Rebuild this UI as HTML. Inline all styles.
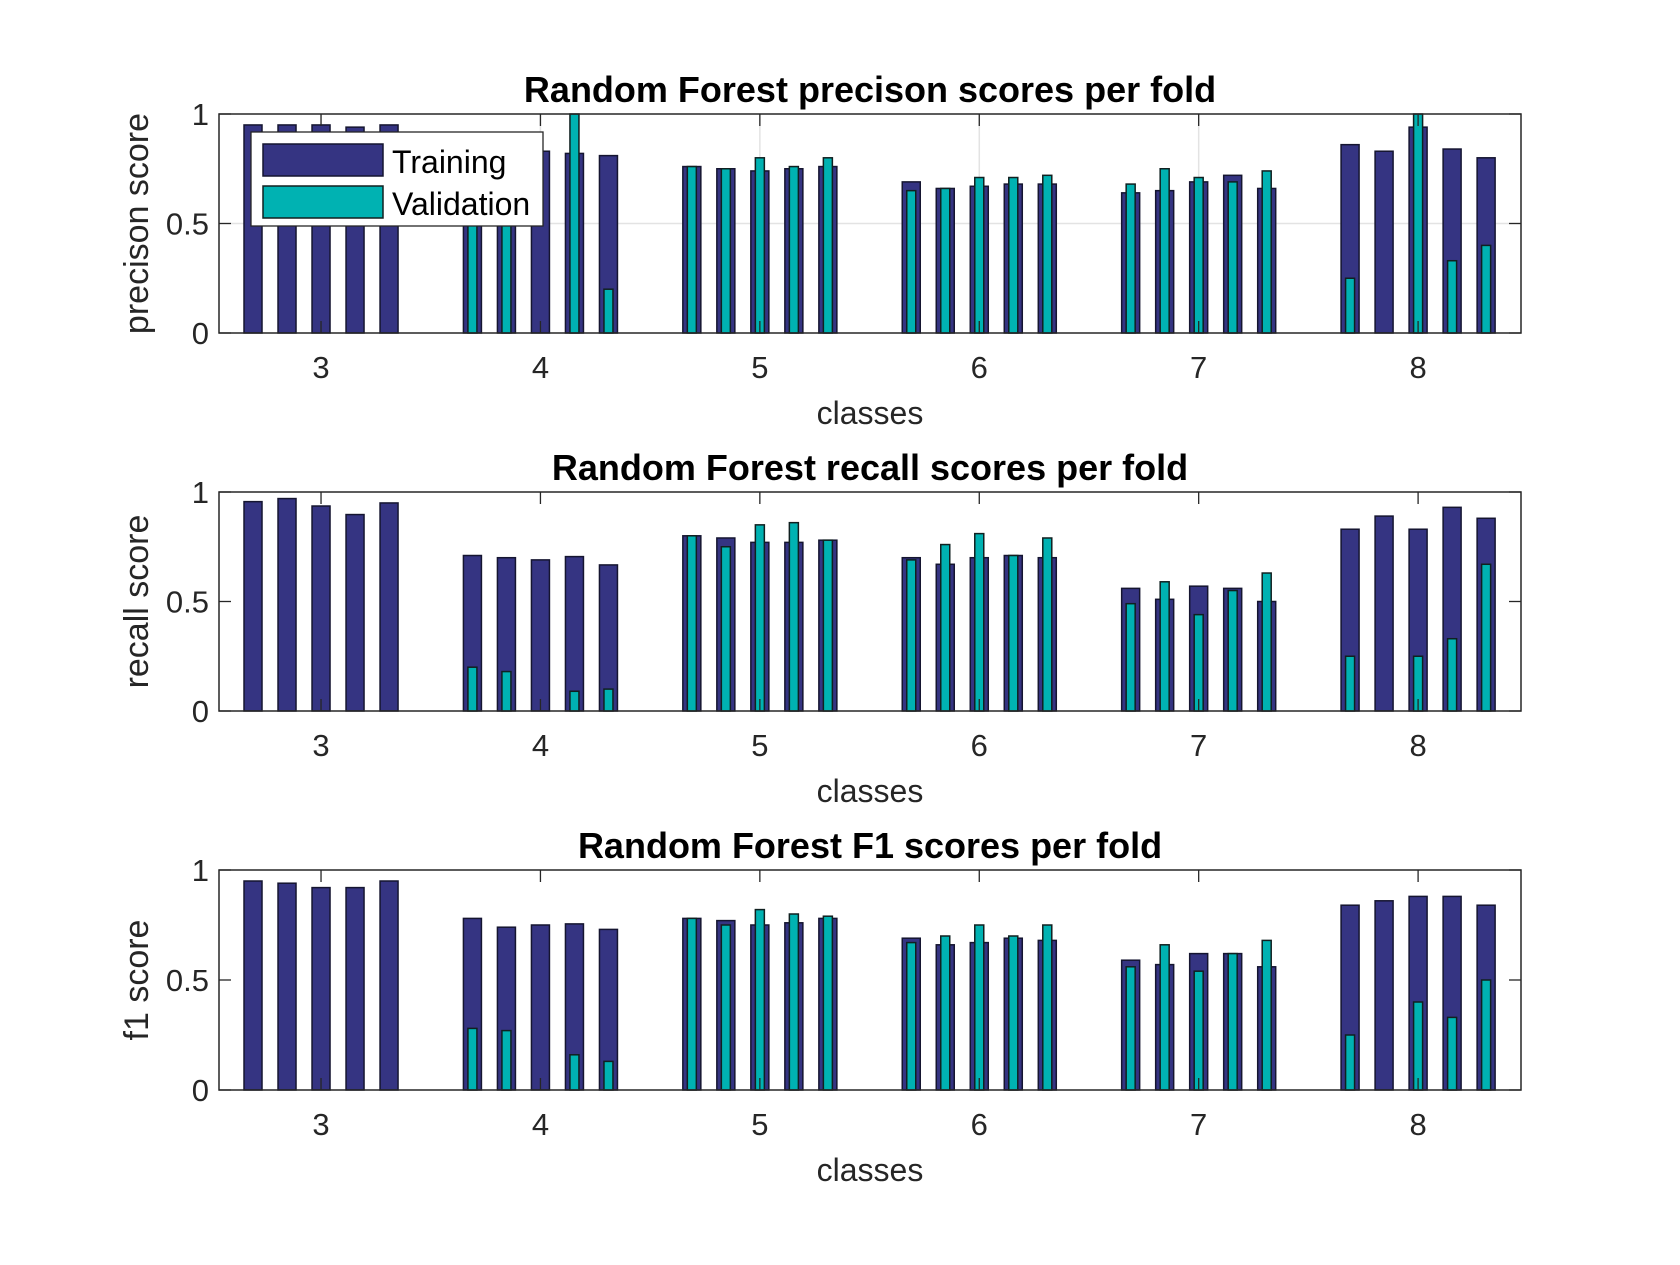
<!DOCTYPE html>
<html><head><meta charset="utf-8"><style>
body{margin:0;background:#fff;}
svg text{font-family:"Liberation Sans",Arial,sans-serif;}
</style></head><body>
<svg id="chart" width="1680" height="1260" viewBox="0 0 1680 1260" xmlns="http://www.w3.org/2000/svg"></svg>
<script>
const classes = [3,4,5,6,7,8];
const precTrain = [[0.95,0.95,0.95,0.94,0.95],[0.85,0.85,0.83,0.82,0.81],[0.76,0.75,0.74,0.75,0.76],[0.69,0.66,0.67,0.68,0.68],[0.64,0.65,0.69,0.72,0.66],[0.86,0.83,0.94,0.84,0.80]];
const precVal = [[0,0,0,0,0],[0.6,0.6,0,1.0,0.2],[0.76,0.75,0.80,0.76,0.80],[0.65,0.66,0.71,0.71,0.72],[0.68,0.75,0.71,0.69,0.74],[0.25,0,1.0,0.33,0.40]];
const recTrain = [[0.956,0.97,0.936,0.897,0.95],[0.71,0.70,0.69,0.705,0.667],[0.80,0.79,0.77,0.77,0.78],[0.70,0.67,0.70,0.71,0.70],[0.56,0.51,0.57,0.56,0.50],[0.83,0.89,0.83,0.93,0.88]];
const recVal = [[0,0,0,0,0],[0.2,0.18,0,0.09,0.1],[0.80,0.75,0.85,0.86,0.78],[0.69,0.76,0.81,0.71,0.79],[0.49,0.59,0.44,0.55,0.63],[0.25,0,0.25,0.33,0.67]];
const f1Train = [[0.95,0.94,0.92,0.92,0.95],[0.78,0.74,0.75,0.755,0.73],[0.78,0.77,0.75,0.76,0.78],[0.69,0.66,0.67,0.69,0.68],[0.59,0.57,0.62,0.62,0.56],[0.84,0.86,0.88,0.88,0.84]];
const f1Val = [[0,0,0,0,0],[0.28,0.27,0,0.16,0.13],[0.78,0.75,0.82,0.80,0.79],[0.67,0.70,0.75,0.70,0.75],[0.56,0.66,0.54,0.62,0.68],[0.25,0,0.40,0.33,0.50]];
const yTicks = [0,0.5,1];
const yTickLabels = ["0","0.5","1"];

const NS="http://www.w3.org/2000/svg";
const svg=document.getElementById('chart');
function mk(tag,attrs,parent){const e=document.createElementNS(NS,tag);for(const k in attrs)e.setAttribute(k,attrs[k]);(parent||svg).appendChild(e);return e;}
const L=219,R=1521,xmin=2.535,xmax=8.469;
const xs=v=>L+(v-xmin)/(xmax-xmin)*(R-L);
const offsets=[-0.31,-0.155,0,0.155,0.31];
const panels=[
 {top:114,bot:333,title:"Random Forest precison scores per fold",ylab:"precison score",tr:precTrain,va:precVal,grid:true,name:"precision"},
 {top:492,bot:711,title:"Random Forest recall scores per fold",ylab:"recall score",tr:recTrain,va:recVal,grid:false,name:"recall"},
 {top:870,bot:1090,title:"Random Forest F1 scores per fold",ylab:"f1 score",tr:f1Train,va:f1Val,grid:false,name:"f1"}
];
panels.forEach(p=>{
 const g=mk('g',{});
 
 
 const ys=v=>p.bot-v*(p.bot-p.top);
 mk('rect',{x:L,y:p.top,width:R-L,height:p.bot-p.top,fill:'#fff'},g);
 if(p.grid){
  classes.forEach(c=>mk('line',{x1:xs(c),x2:xs(c),y1:p.top,y2:p.bot,stroke:'#e3e3e3','stroke-width':1.5},g));
  mk('line',{x1:L,x2:R,y1:ys(0.5),y2:ys(0.5),stroke:'#e3e3e3','stroke-width':1.5},g);
 }
 classes.forEach((c,i)=>{
  offsets.forEach((o,j)=>{
   const cx=xs(c+o);
   const t=mk('rect',{x:cx-9,y:ys(p.tr[i][j]),width:18,height:ys(0)-ys(p.tr[i][j]),fill:'#353482',stroke:'#151530','stroke-width':1.5},g);
   
   
   if(p.va[i][j]>0){
    const v=mk('rect',{x:cx-4.5,y:ys(p.va[i][j]),width:9,height:ys(0)-ys(p.va[i][j]),fill:'#00b2b2',stroke:'#102020','stroke-width':1.5},g);
    
    
   }
  });
 });
 mk('rect',{x:L,y:p.top,width:R-L,height:p.bot-p.top,fill:'none',stroke:'#262626','stroke-width':1.5},g);
 classes.forEach(c=>{
  mk('line',{x1:xs(c),x2:xs(c),y1:p.bot,y2:p.bot-12,stroke:'#262626','stroke-width':1.3},g);
  mk('line',{x1:xs(c),x2:xs(c),y1:p.top,y2:p.top+12,stroke:'#262626','stroke-width':1.3},g);
  const t=mk('text',{x:xs(c),y:p.bot+45,'text-anchor':'middle','font-size':31,fill:'#262626'},g);
  t.textContent=c;
  
  
 });
 yTicks.forEach((v,k)=>{
  mk('line',{x1:L,x2:L+12,y1:ys(v),y2:ys(v),stroke:'#262626','stroke-width':1.3},g);
  mk('line',{x1:R,x2:R-12,y1:ys(v),y2:ys(v),stroke:'#262626','stroke-width':1.3},g);
  const t=mk('text',{x:L-10,y:ys(v)+11,'text-anchor':'end','font-size':31,fill:'#262626'},g);
  t.textContent=yTickLabels[k];
  
  
 });
 const ti=mk('text',{x:(L+R)/2,y:p.top-12,'text-anchor':'middle','font-size':36,'font-weight':'bold',fill:'#000'},g);
 ti.textContent=p.title;
 
 
 const xl=mk('text',{x:(L+R)/2,y:p.bot+91,'text-anchor':'middle','font-size':32,fill:'#262626'},g);
 xl.textContent='classes';
 
 
 const cy=(p.top+p.bot)/2;
 const yl=mk('text',{x:148,y:cy,'text-anchor':'middle','font-size':34,fill:'#262626',transform:'rotate(-90 148 '+cy+')'},g);
 yl.textContent=p.ylab;
 
 
});
// legend
const lg=mk('g',{});


mk('rect',{x:251,y:132,width:292,height:94,fill:'#fff',stroke:'#262626','stroke-width':1.3},lg);
mk('rect',{x:263,y:144,width:120,height:32,fill:'#353482',stroke:'#151530','stroke-width':1.5},lg);
mk('rect',{x:263,y:186,width:120,height:32,fill:'#00b2b2',stroke:'#102020','stroke-width':1.5},lg);
const t1=mk('text',{x:392,y:173,'font-size':32,fill:'#000'},lg);t1.textContent='Training';


const t2=mk('text',{x:392,y:215,'font-size':32,fill:'#000'},lg);t2.textContent='Validation';


</script>
</body></html>
